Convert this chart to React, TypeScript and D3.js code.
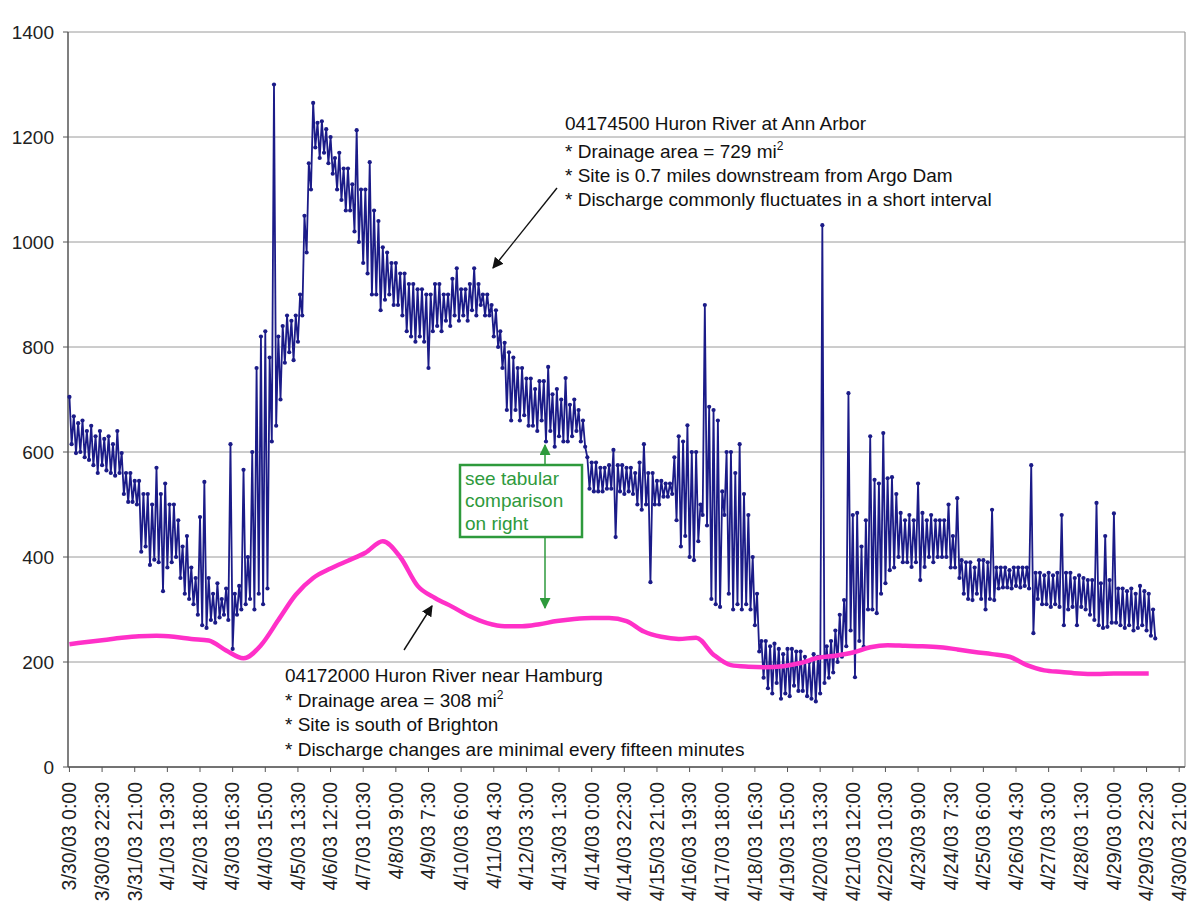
import React from "react";
import * as d3 from "d3";

const WIDTH = 1198;
const HEIGHT = 901;

// 04174500 Huron River at Ann Arbor, discharge (cfs).
// Each 3-hour block from 3/30/03 0:00 holds a high reading (start of block)
const annArborBlockHours = 3;
const annArborHigh = [
  705, 668, 655, 660, 640, 650, 630, 640, 625, 630,
  615, 640, 598, 560, 560, 545, 545, 520, 520, 500,
  570, 520, 540, 500, 500, 470, 420, 440, 380, 360,
  476, 543, 360, 330, 350, 320, 340, 615, 330, 345,
  566, 400, 600, 760, 820, 830, 780, 1300, 820, 840,
  860, 850, 860, 900, 1050, 1150, 1265, 1227, 1230, 1215,
  1200, 1160, 1170, 1140, 1140, 1110, 1213, 1100, 1100, 1152,
  1060, 1040, 990, 980, 960, 960, 940, 940, 920, 920,
  910, 910, 900, 900, 920, 920, 900, 900, 930, 950,
  910, 910, 920, 950, 920, 900, 900, 880, 870, 830,
  808, 790, 780, 760, 760, 740, 740, 720, 735, 735,
  762, 710, 720, 700, 741, 690, 700, 680, 660, 590,
  580, 580, 570, 570, 575, 604, 575, 575, 570, 570,
  560, 580, 615, 560, 560, 545, 545, 540, 540, 590,
  630, 620, 651, 600, 600, 500, 880, 686, 680, 660,
  525, 600, 600, 560, 615, 520, 480, 400, 330, 240,
  240, 230, 235, 225, 215, 225, 225, 220, 220, 210,
  200, 215, 210, 1032, 230, 240, 260, 290, 318, 712,
  480, 484, 420, 470, 630, 547, 540, 636, 550, 552,
  520, 484, 470, 480, 470, 540, 484, 470, 480, 470,
  470, 470, 500, 440, 512, 394, 390, 390, 380, 394,
  394, 390, 490, 380, 380, 380, 375, 380, 380, 380,
  380, 575, 370, 370, 365, 370, 365, 370, 480, 370,
  370, 360, 365, 360, 356, 356, 503, 350, 440, 356,
  483, 340, 340, 335, 340, 330, 345, 335, 330, 300,
];
const annArborLow = [
  615, 598, 600, 590, 585, 575, 560, 575, 565, 560,
  555, 560, 520, 505, 505, 500, 410, 420, 385, 395,
  390, 335, 380, 390, 400, 360, 330, 320, 310, 290,
  270, 265, 280, 275, 285, 290, 280, 225, 290, 300,
  310, 320, 300, 330, 310, 340, 620, 650, 700, 770,
  790, 775, 810, 860, 980, 1100, 1180, 1160, 1170, 1150,
  1130, 1100, 1080, 1060, 1060, 1020, 1000, 960, 940, 900,
  900, 870, 890, 900, 880, 880, 860, 830, 820, 810,
  820, 810, 760, 830, 840, 830, 850, 840, 860, 850,
  860, 850, 870, 860, 880, 860, 860, 820, 800, 760,
  680, 660, 680, 660, 670, 650, 650, 640, 660, 620,
  640, 610, 630, 620, 620, 630, 640, 620, 610, 530,
  525, 525, 525, 530, 530, 438, 525, 520, 525, 520,
  500, 490, 500, 352, 500, 500, 515, 515, 520, 470,
  420, 440, 400, 394, 430, 480, 460, 320, 310, 305,
  480, 330, 300, 310, 300, 310, 300, 270, 220, 170,
  150, 140, 160, 130, 140, 135, 155, 145, 145, 135,
  130, 125, 140, 160, 170, 180, 200, 210, 230, 260,
  171, 240, 229, 300, 300, 293, 330, 350, 375, 380,
  400, 390, 390, 381, 390, 356, 381, 400, 390, 400,
  400, 400, 380, 380, 360, 330, 320, 318, 330, 320,
  300, 320, 318, 340, 342, 342, 340, 345, 342, 345,
  340, 255, 320, 310, 310, 305, 310, 305, 270, 300,
  305, 270, 305, 300, 290, 280, 270, 265, 267, 275,
  275, 270, 265, 270, 260, 265, 270, 260, 250, 245,
];

// 04172000 Huron River near Hamburg, discharge (cfs), read every 12 hours from 3/30/03 0:00
const hamburgStepHours = 12;
const hamburgFlow = [
  234, 238, 242, 246, 249, 250, 248, 244, 241, 222,
  207, 232, 280, 328, 360, 378, 393, 408, 430, 400,
  345, 322, 305, 287, 274, 268, 268, 272, 278, 282,
  284, 284, 278, 258, 248, 244, 246, 214, 194, 191,
  190, 192, 198, 208, 212, 218, 228, 232, 231, 230,
  228, 224, 219, 215, 210, 194, 184, 181, 178, 177,
  178, 178, 178,
];

const yTicks = [0, 200, 400, 600, 800, 1000, 1200, 1400];

const xTickLabels = [
  "3/30/03 0:00", "3/30/03 22:30", "3/31/03 21:00", "4/1/03 19:30", "4/2/03 18:00",
  "4/3/03 16:30", "4/4/03 15:00", "4/5/03 13:30", "4/6/03 12:00", "4/7/03 10:30",
  "4/8/03 9:00", "4/9/03 7:30", "4/10/03 6:00", "4/11/03 4:30", "4/12/03 3:00",
  "4/13/03 1:30", "4/14/03 0:00", "4/14/03 22:30", "4/15/03 21:00", "4/16/03 19:30",
  "4/17/03 18:00", "4/18/03 16:30", "4/19/03 15:00", "4/20/03 13:30", "4/21/03 12:00",
  "4/22/03 10:30", "4/23/03 9:00", "4/24/03 7:30", "4/25/03 6:00", "4/26/03 4:30",
  "4/27/03 3:00", "4/28/03 1:30", "4/29/03 0:00", "4/29/03 22:30", "4/30/03 21:00",
];

const annArborNotes = [
  "04174500 Huron River at Ann Arbor",
  "* Drainage area = 729 mi",
  "* Site is 0.7 miles downstream from Argo Dam",
  "* Discharge commonly fluctuates in a short interval",
];
const hamburgNotes = [
  "04172000 Huron River near Hamburg",
  "* Drainage area = 308 mi",
  "* Site is south of Brighton",
  "* Discharge changes are minimal every fifteen minutes",
];
const boxNotes = ["see tabular", "comparison", "on right"];

const FONT = "'Liberation Sans', Arial, sans-serif";
const BLUE = "#1b1b88";
const PINK = "#ff30c8";
const GREEN = "#2e9a3c";

const parseLabel = d3.timeParse("%m/%d/%y %H:%M");
const start = parseLabel(xTickLabels[0]) as Date;

const margin = { left: 68, right: 13, top: 32, bottom: 134 };

type Pt = { t: Date; v: number };

export default function App() {
  const x = d3
    .scaleTime()
    .domain([d3.timeHour.offset(start, -1), d3.timeHour.offset(start, 769)])
    .range([margin.left, WIDTH - margin.right]);
  const y = d3
    .scaleLinear()
    .domain([0, 1400])
    .range([HEIGHT - margin.bottom, margin.top]);

  // interleave high / low readings in time order
  const annArbor: Pt[] = annArborHigh.flatMap((hi, i) => [
    { t: d3.timeMinute.offset(start, i * annArborBlockHours * 60), v: hi },
    { t: d3.timeMinute.offset(start, i * annArborBlockHours * 60 + 90), v: annArborLow[i] },
  ]);
  const hamburg: Pt[] = hamburgFlow.map((v, i) => ({
    t: d3.timeHour.offset(start, i * hamburgStepHours),
    v,
  }));

  const blueLine = d3
    .line<Pt>()
    .x((d) => x(d.t))
    .y((d) => y(d.v))(annArbor);
  const pinkLine = d3
    .line<Pt>()
    .x((d) => x(d.t))
    .y((d) => y(d.v))
    .curve(d3.curveMonotoneX)(hamburg);

  const x0 = margin.left;
  const x1 = WIDTH - margin.right;
  const yBottom = y(0);

  return (
    <svg
      width={WIDTH}
      height={HEIGHT}
      style={{ position: "absolute", left: 0, top: 0, background: "#fff" }}
      fontFamily={FONT}
    >
      <defs>
        <marker id="blackHead" viewBox="0 0 10 10" refX="9" refY="5" markerWidth="11" markerHeight="11" markerUnits="userSpaceOnUse" orient="auto">
          <path d="M0,0 L10,5 L0,10 z" fill="#111" />
        </marker>
        <marker id="greenHead" viewBox="0 0 10 10" refX="9" refY="5" markerWidth="11" markerHeight="11" markerUnits="userSpaceOnUse" orient="auto">
          <path d="M0,0 L10,5 L0,10 z" fill={GREEN} />
        </marker>
      </defs>

      {/* grid lines */}
      {yTicks.map((t) => (
        <line key={t} x1={x0} x2={x1} y1={y(t)} y2={y(t)} stroke="#9a9a9a" strokeWidth={1} />
      ))}
      <line x1={x1} x2={x1} y1={y(1400)} y2={yBottom} stroke="#9a9a9a" strokeWidth={1.2} />

      {/* axes */}
      <line x1={x0} x2={x0} y1={y(1400)} y2={yBottom} stroke="#555" strokeWidth={1.5} />
      <line x1={x0} x2={x1} y1={yBottom} y2={yBottom} stroke="#555" strokeWidth={1.5} />
      {yTicks.map((t) => (
        <g key={t}>
          <line x1={x0 - 5} x2={x0} y1={y(t)} y2={y(t)} stroke="#555" />
          <text x={x0 - 14} y={y(t)} dy="0.35em" textAnchor="end" fontSize={19} fill="#222">
            {t}
          </text>
        </g>
      ))}
      {xTickLabels.map((lab) => {
        const px = x(parseLabel(lab) as Date);
        return (
          <g key={lab}>
            <line x1={px} x2={px} y1={yBottom} y2={yBottom + 5} stroke="#555" />
            <text
              transform={`translate(${px},${yBottom + 15}) rotate(-90)`}
              dy="0.35em"
              textAnchor="end"
              fontSize={19.5}
              fill="#222"
            >
              {lab}
            </text>
          </g>
        );
      })}

      {/* Ann Arbor series */}
      <path d={blueLine ?? ""} fill="none" stroke={BLUE} strokeWidth={1.8} strokeLinejoin="round" />
      {annArbor.map((d, i) => (
        <circle key={i} cx={x(d.t)} cy={y(d.v)} r={2.1} fill={BLUE} />
      ))}

      {/* Hamburg series */}
      <path d={pinkLine ?? ""} fill="none" stroke={PINK} strokeWidth={4.5} strokeLinejoin="round" />

      {/* annotations */}
      <g fontSize={19} fill="#111">
        {annArborNotes.map((s, i) => (
          <text key={s} x={565} y={[130, 158, 182, 206][i]}>
            {s}
            {i === 1 && (
              <tspan dy={-8} fontSize={12}>
                2
              </tspan>
            )}
          </text>
        ))}
        {hamburgNotes.map((s, i) => (
          <text key={s} x={285} y={[682, 707, 731, 756][i]}>
            {s}
            {i === 1 && (
              <tspan dy={-8} fontSize={12}>
                2
              </tspan>
            )}
          </text>
        ))}
      </g>
      <line x1={557} y1={188} x2={493} y2={268} stroke="#111" strokeWidth={1.4} markerEnd="url(#blackHead)" />
      <line x1={404} y1={650} x2={432} y2={606} stroke="#111" strokeWidth={1.4} markerEnd="url(#blackHead)" />

      <rect x={460} y={465} width={122} height={72} fill="#fff" stroke={GREEN} strokeWidth={2.5} />
      <g fontSize={19} fill={GREEN}>
        {boxNotes.map((s, i) => (
          <text key={s} x={465} y={[485, 507, 530][i]}>
            {s}
          </text>
        ))}
      </g>
      <line x1={545} y1={465} x2={545} y2={445} stroke={GREEN} strokeWidth={1.5} markerEnd="url(#greenHead)" />
      <line x1={545} y1={537} x2={545} y2={608} stroke={GREEN} strokeWidth={1.5} markerEnd="url(#greenHead)" />
    </svg>
  );
}
